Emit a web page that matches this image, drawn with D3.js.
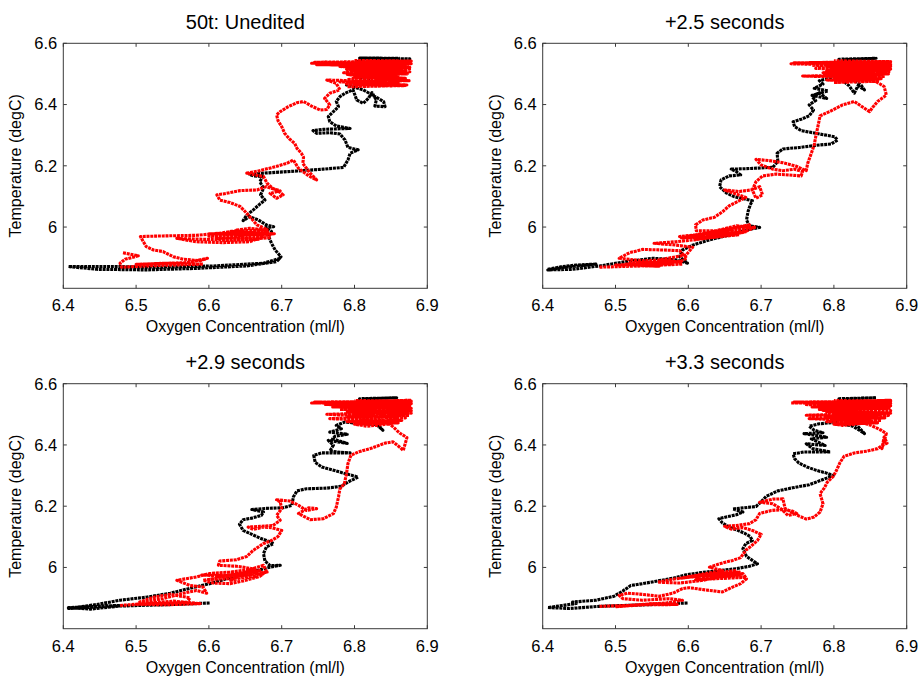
<!DOCTYPE html>
<html>
<head>
<meta charset="utf-8">
<script src="https://cdn.jsdelivr.net/npm/d3@7"></script>
<style>
  body { margin: 0; background: #fff; }
  svg text { font-family: "Liberation Sans", Arial, sans-serif; fill: #000; }
</style>
</head>
<body>
<div id="main"></div>
<script>
const ctx = {
    WIDTH: 922,
    HEIGHT: 677
}

// panel titles
const titles = ["50t: Unedited", "+2.5 seconds", "+2.9 seconds", "+3.3 seconds"];

// axis ticks
const xTicks = [6.4, 6.5, 6.6, 6.7, 6.8, 6.9];
const yTicks = [6, 6.2, 6.4, 6.6];
const xDomain = [6.4, 6.9];
const yDomain = [5.8, 6.6];

// traces: [oxygen, temperature]
const uneditedBlack = [
  [6.698,5.898],[6.675,5.882],[6.606,5.873],[6.537,5.869],[6.469,5.871],[6.407,5.871],[6.446,5.862],
  [6.514,5.860],[6.583,5.865],[6.652,5.873],[6.693,5.887],[6.699,5.903],[6.691,5.925],[6.686,5.947],
  [6.682,5.969],[6.686,5.985],[6.678,5.998],[6.689,6.001],[6.679,6.007],[6.668,6.023],[6.656,6.034],
  [6.647,6.021],[6.652,6.039],[6.661,6.056],[6.670,6.075],[6.677,6.088],[6.671,6.105],[6.675,6.127],
  [6.670,6.148],[6.674,6.165],[6.661,6.167],[6.656,6.172],[6.675,6.176],[6.721,6.183],[6.757,6.189],
  [6.785,6.195],[6.791,6.219],[6.794,6.241],[6.805,6.252],[6.791,6.260],[6.787,6.284],[6.780,6.304],
  [6.766,6.308],[6.748,6.306],[6.743,6.315],[6.757,6.319],[6.780,6.321],[6.794,6.322],[6.775,6.330],
  [6.766,6.344],[6.764,6.361],[6.771,6.377],[6.778,6.393],[6.775,6.410],[6.780,6.426],[6.787,6.437],
  [6.798,6.448],[6.803,6.415],[6.812,6.404],[6.819,6.420],[6.824,6.439],[6.830,6.415],[6.828,6.395],
  [6.842,6.393],[6.840,6.410],[6.812,6.448],[6.789,6.464],[6.812,6.469],[6.840,6.464],[6.803,6.491],
  [6.798,6.535],[6.812,6.548],[6.876,6.549],[6.807,6.552],[6.862,6.551]
];
const uneditedRed = [
  [6.482,5.916],[6.503,5.906],[6.485,5.895],[6.478,5.882],[6.480,5.869],[6.514,5.873],[6.551,5.876],
  [6.592,5.879],[6.540,5.882],[6.500,5.878],[6.570,5.884],[6.598,5.898],[6.588,5.890],[6.565,5.895],
  [6.551,5.903],[6.537,5.920],[6.524,5.925],[6.514,5.936],[6.510,5.952],[6.506,5.969],[6.537,5.971],
  [6.583,5.973],[6.615,5.980],[6.629,5.985],[6.656,5.974],[6.675,5.969],[6.656,5.952],[6.620,5.949],
  [6.583,5.952],[6.556,5.963],[6.592,5.960],[6.629,5.958],[6.647,5.969],[6.638,5.990],[6.656,5.996],
  [6.679,5.990],[6.684,5.974],[6.600,5.978],[6.680,5.982],[6.610,5.962],[6.685,5.965],[6.620,5.956],
  [6.670,5.960],[6.600,5.970],[6.690,5.978],[6.630,5.986],[6.680,5.992],[6.666,6.007],
  [6.656,6.034],[6.650,6.050],[6.643,6.067],[6.629,6.080],[6.615,6.088],[6.611,6.105],[6.624,6.110],
  [6.643,6.119],[6.666,6.121],[6.679,6.132],[6.693,6.121],[6.702,6.105],[6.693,6.094],[6.684,6.110],
  [6.698,6.118],[6.688,6.126],[6.680,6.143],[6.675,6.165],[6.652,6.176],[6.666,6.182],[6.688,6.195],
  [6.707,6.208],[6.716,6.219],[6.723,6.192],[6.737,6.167],[6.748,6.154],[6.739,6.176],[6.729,6.208],
  [6.730,6.228],[6.727,6.241],[6.721,6.257],[6.718,6.273],[6.711,6.287],[6.704,6.306],[6.700,6.328],
  [6.695,6.347],[6.693,6.366],[6.698,6.377],[6.709,6.393],[6.721,6.406],[6.730,6.410],[6.741,6.395],
  [6.753,6.382],[6.762,6.384],[6.766,6.399],[6.759,6.420],[6.766,6.437],[6.780,6.448],[6.775,6.469],
  [6.762,6.480],[6.840,6.475],[6.789,6.467],[6.872,6.464],[6.803,6.459],[6.853,6.491],[6.794,6.497],
  [6.872,6.500],[6.785,6.504],[6.858,6.511],[6.789,6.515],[6.876,6.522],[6.780,6.524],[6.878,6.533],
  [6.741,6.535],[6.876,6.540],[6.803,6.537],[6.878,6.537],[6.748,6.530],[6.867,6.528],[6.812,6.518],
  [6.876,6.507],[6.798,6.486],[6.862,6.480],[6.812,6.472],[6.844,6.461],
  [6.790,6.458],[6.870,6.462],[6.800,6.466],[6.860,6.470],[6.780,6.474],[6.875,6.478],[6.790,6.482],
  [6.870,6.486],[6.800,6.490],[6.860,6.494],[6.790,6.498],[6.875,6.502],[6.800,6.506],[6.870,6.510],
  [6.795,6.514],[6.878,6.518],[6.790,6.522],[6.870,6.526],[6.760,6.530],[6.878,6.534],[6.745,6.538],
  [6.878,6.542],[6.800,6.544]
];

const plus25Black = [
  [6.407,5.862],[6.427,5.871],[6.446,5.876],[6.473,5.879],[6.432,5.869],[6.407,5.860],[6.441,5.862],
  [6.478,5.873],[6.514,5.887],[6.551,5.898],[6.583,5.893],[6.599,5.882],[6.588,5.903],[6.592,5.925],
  [6.606,5.941],[6.629,5.958],[6.656,5.974],[6.679,5.990],[6.698,5.999],[6.684,6.004],[6.680,6.023],
  [6.682,6.050],[6.685,6.072],[6.688,6.086],[6.675,6.093],[6.663,6.099],[6.652,6.112],[6.643,6.132],
  [6.645,6.154],[6.656,6.167],[6.672,6.170],[6.666,6.181],[6.659,6.189],[6.684,6.191],[6.716,6.195],
  [6.723,6.214],[6.722,6.241],[6.730,6.255],[6.753,6.260],[6.780,6.268],[6.796,6.271],[6.805,6.284],
  [6.801,6.295],[6.787,6.301],[6.771,6.308],[6.755,6.315],[6.746,6.328],[6.744,6.344],[6.755,6.352],
  [6.766,6.363],[6.772,6.382],[6.766,6.399],[6.775,6.413],[6.770,6.426],[6.780,6.439],[6.790,6.420],
  [6.770,6.430],[6.792,6.445],[6.773,6.453],[6.785,6.467],[6.780,6.478],[6.794,6.486],[6.803,6.497],
  [6.821,6.461],[6.828,6.437],[6.833,6.461],[6.842,6.448],[6.837,6.464],[6.812,6.502],[6.807,6.548],
  [6.858,6.551],[6.812,6.546]
];
const plus25Red = [
  [6.478,5.869],[6.537,5.873],[6.592,5.879],[6.574,5.893],[6.537,5.890],[6.505,5.898],[6.519,5.916],
  [6.537,5.927],[6.565,5.925],[6.588,5.923],[6.598,5.898],[6.588,5.887],[6.551,5.882],[6.514,5.879],
  [6.560,5.872],[6.500,5.876],[6.580,5.880],[6.520,5.884],[6.590,5.886],
  [6.560,5.893],[6.597,5.909],[6.606,5.934],[6.583,5.941],[6.553,5.947],[6.583,5.952],[6.615,5.960],
  [6.647,5.971],[6.675,5.982],[6.693,6.001],[6.675,5.990],[6.643,5.974],[6.611,5.963],[6.588,5.969],
  [6.620,5.977],[6.656,5.988],[6.684,6.007],[6.600,5.970],[6.680,5.985],[6.610,5.960],[6.670,5.975],
  [6.590,5.965],[6.660,5.992],[6.620,5.978],[6.690,5.998],[6.666,6.004],[6.638,5.988],[6.611,5.988],
  [6.610,6.007],[6.620,6.023],[6.636,6.032],[6.647,6.050],[6.656,6.069],[6.670,6.086],[6.679,6.097],
  [6.663,6.110],[6.650,6.121],[6.670,6.116],[6.686,6.121],[6.698,6.132],[6.702,6.105],[6.693,6.094],
  [6.688,6.121],[6.693,6.148],[6.702,6.167],[6.721,6.173],[6.743,6.169],[6.755,6.167],[6.757,6.181],
  [6.746,6.189],[6.730,6.184],[6.716,6.189],[6.700,6.203],[6.693,6.221],[6.711,6.217],[6.730,6.210],
  [6.748,6.199],[6.762,6.184],[6.764,6.208],[6.769,6.241],[6.773,6.268],[6.775,6.295],[6.778,6.328],
  [6.781,6.363],[6.794,6.377],[6.812,6.399],[6.828,6.410],[6.840,6.391],[6.849,6.377],[6.854,6.393],
  [6.860,6.410],[6.872,6.431],[6.869,6.459],[6.858,6.475],[6.812,6.478],[6.858,6.486],[6.794,6.491],
  [6.757,6.493],[6.867,6.497],[6.785,6.504],[6.876,6.511],[6.775,6.518],[6.878,6.526],[6.741,6.533],
  [6.878,6.540],[6.766,6.537],[6.876,6.533],[6.789,6.524],[6.858,6.515],[6.798,6.507],[6.872,6.500],
  [6.803,6.486],[6.853,6.482],
  [6.800,6.472],[6.860,6.476],[6.790,6.480],[6.865,6.484],[6.800,6.488],[6.870,6.492],[6.790,6.496],
  [6.875,6.500],[6.800,6.504],[6.878,6.508],[6.790,6.512],[6.878,6.516],[6.780,6.520],[6.878,6.524],
  [6.770,6.528],[6.878,6.532],[6.745,6.536],[6.878,6.540],[6.800,6.543]
];

const plus29Black = [
  [6.601,5.884],[6.551,5.879],[6.478,5.874],[6.437,5.864],[6.407,5.869],[6.441,5.873],[6.478,5.876],
  [6.407,5.866],[6.446,5.879],[6.478,5.893],[6.514,5.903],[6.547,5.916],[6.574,5.932],[6.601,5.947],
  [6.624,5.963],[6.647,5.977],[6.666,5.990],[6.684,6.001],[6.698,6.007],[6.684,6.006],[6.677,6.021],
  [6.675,6.045],[6.679,6.067],[6.689,6.078],[6.679,6.088],[6.670,6.096],[6.659,6.108],[6.647,6.121],
  [6.642,6.141],[6.647,6.156],[6.659,6.161],[6.672,6.170],[6.675,6.181],[6.659,6.189],[6.679,6.193],
  [6.702,6.195],[6.714,6.203],[6.716,6.230],[6.721,6.250],[6.734,6.257],[6.762,6.259],[6.782,6.265],
  [6.791,6.279],[6.805,6.295],[6.796,6.301],[6.785,6.308],[6.769,6.319],[6.755,6.328],[6.746,6.343],
  [6.744,6.366],[6.755,6.374],[6.794,6.374],[6.766,6.379],[6.771,6.399],[6.764,6.415],[6.790,6.405],
  [6.770,6.420],[6.773,6.428],[6.790,6.435],[6.766,6.442],[6.782,6.453],[6.775,6.464],[6.787,6.475],
  [6.798,6.472],[6.830,6.467],[6.839,6.448],[6.833,6.464],[6.812,6.491],[6.807,6.551],[6.858,6.554],
  [6.812,6.550]
];
const plus29Red = [
  [6.478,5.876],[6.514,5.882],[6.551,5.890],[6.588,5.882],[6.540,5.878],[6.500,5.880],[6.570,5.886],
  [6.574,5.901],[6.547,5.912],[6.524,5.903],[6.505,5.887],[6.537,5.898],[6.565,5.916],[6.583,5.925],
  [6.597,5.916],[6.592,5.936],[6.574,5.941],[6.556,5.958],[6.583,5.969],[6.601,5.980],[6.629,5.985],
  [6.656,5.993],[6.675,6.007],[6.679,5.988],[6.670,5.971],[6.647,5.956],[6.629,5.947],[6.606,5.949],
  [6.592,5.958],[6.620,5.969],[6.652,5.974],[6.675,5.980],[6.600,5.960],[6.665,5.970],[6.590,5.975],
  [6.670,5.990],[6.610,5.968],[6.680,5.985],[6.630,5.958],[6.660,5.996],[6.638,6.004],[6.613,6.007],
  [6.615,6.021],[6.638,6.025],[6.652,6.036],[6.661,6.056],[6.675,6.078],[6.686,6.088],[6.695,6.101],
  [6.700,6.121],[6.686,6.130],[6.675,6.132],[6.661,6.124],[6.654,6.132],[6.670,6.134],[6.688,6.137],
  [6.698,6.154],[6.693,6.170],[6.700,6.192],[6.698,6.214],[6.693,6.221],[6.711,6.217],[6.723,6.203],
  [6.734,6.186],[6.748,6.192],[6.737,6.195],[6.723,6.176],[6.739,6.156],[6.757,6.159],[6.771,6.176],
  [6.775,6.197],[6.778,6.230],[6.780,6.257],[6.786,6.273],[6.789,6.306],[6.791,6.339],[6.795,6.366],
  [6.805,6.377],[6.824,6.390],[6.842,6.406],[6.853,6.410],[6.863,6.391],[6.867,6.382],[6.872,6.424],
  [6.862,6.439],[6.853,6.459],[6.844,6.475],[6.803,6.469],[6.840,6.478],[6.766,6.486],[6.858,6.491],
  [6.762,6.500],[6.872,6.507],[6.794,6.513],[6.876,6.522],[6.775,6.526],[6.878,6.535],[6.741,6.537],
  [6.878,6.546],[6.789,6.540],[6.876,6.530],[6.803,6.517],[6.867,6.502],[6.812,6.482],[6.849,6.469],
  [6.817,6.461],
  [6.800,6.468],[6.860,6.472],[6.790,6.476],[6.865,6.480],[6.800,6.484],[6.870,6.488],[6.790,6.492],
  [6.875,6.496],[6.800,6.500],[6.878,6.504],[6.790,6.508],[6.878,6.512],[6.780,6.516],[6.878,6.520],
  [6.770,6.524],[6.878,6.528],[6.760,6.532],[6.878,6.536],[6.745,6.540],[6.878,6.543],[6.800,6.545]
];

const plus33Black = [
  [6.599,5.884],[6.551,5.879],[6.478,5.873],[6.437,5.866],[6.407,5.869],[6.427,5.876],[6.446,5.882],
  [6.441,5.887],[6.473,5.893],[6.498,5.906],[6.510,5.923],[6.521,5.941],[6.537,5.947],[6.556,5.955],
  [6.579,5.965],[6.597,5.976],[6.620,5.984],[6.643,5.990],[6.666,5.996],[6.684,6.004],[6.695,6.012],
  [6.688,6.023],[6.680,6.036],[6.675,6.061],[6.679,6.078],[6.688,6.088],[6.685,6.101],[6.677,6.112],
  [6.668,6.121],[6.656,6.132],[6.647,6.145],[6.642,6.159],[6.652,6.165],[6.666,6.172],[6.675,6.181],
  [6.661,6.191],[6.677,6.195],[6.693,6.199],[6.700,6.214],[6.707,6.232],[6.723,6.250],[6.743,6.260],
  [6.766,6.270],[6.785,6.287],[6.799,6.300],[6.790,6.308],[6.776,6.317],[6.763,6.328],[6.752,6.341],
  [6.746,6.355],[6.744,6.371],[6.759,6.377],[6.795,6.377],[6.771,6.388],[6.762,6.404],[6.788,6.398],
  [6.769,6.420],[6.790,6.425],[6.759,6.437],[6.785,6.440],[6.773,6.448],[6.766,6.461],[6.780,6.469],
  [6.803,6.474],[6.826,6.461],[6.835,6.448],[6.842,6.437],[6.830,6.469],[6.812,6.497],[6.807,6.551],
  [6.858,6.554],[6.812,6.549]
];
const plus33Red = [
  [6.478,5.873],[6.519,5.876],[6.551,5.882],[6.585,5.879],[6.540,5.878],[6.500,5.872],[6.570,5.884],
  [6.592,5.893],[6.574,5.898],[6.537,5.893],[6.510,5.898],[6.505,5.909],[6.517,5.916],[6.537,5.912],
  [6.560,5.906],[6.579,5.916],[6.592,5.931],[6.601,5.934],[6.629,5.925],[6.647,5.920],[6.659,5.934],
  [6.672,5.947],[6.680,5.963],[6.675,5.980],[6.652,5.974],[6.620,5.958],[6.588,5.949],[6.558,5.952],
  [6.583,5.963],[6.611,5.971],[6.638,5.980],[6.666,5.990],[6.600,5.970],[6.675,5.978],[6.610,5.960],
  [6.680,5.968],[6.620,5.975],[6.670,5.985],[6.590,5.965],[6.647,5.990],[6.629,6.001],[6.643,6.012],
  [6.661,6.023],[6.672,6.032],[6.679,6.056],[6.686,6.069],[6.695,6.088],[6.700,6.108],[6.688,6.121],
  [6.675,6.130],[6.659,6.125],[6.650,6.134],[6.666,6.137],[6.684,6.143],[6.693,6.156],[6.698,6.176],
  [6.714,6.186],[6.730,6.189],[6.743,6.184],[6.749,6.176],[6.737,6.170],[6.727,6.192],[6.716,6.208],
  [6.698,6.213],[6.716,6.223],[6.730,6.224],[6.733,6.192],[6.753,6.167],[6.762,6.158],[6.773,6.165],
  [6.781,6.181],[6.785,6.208],[6.781,6.241],[6.787,6.260],[6.791,6.279],[6.799,6.297],[6.804,6.319],
  [6.808,6.341],[6.814,6.363],[6.828,6.374],[6.846,6.380],[6.860,6.388],[6.867,6.399],[6.873,6.406],
  [6.869,6.426],[6.866,6.388],[6.872,6.437],[6.865,6.448],[6.851,6.464],[6.840,6.472],[6.803,6.467],
  [6.849,6.478],[6.766,6.486],[6.858,6.493],[6.762,6.497],[6.872,6.504],[6.785,6.513],[6.876,6.522],
  [6.780,6.526],[6.878,6.535],[6.741,6.537],[6.878,6.546],[6.794,6.540],[6.876,6.530],[6.798,6.517],
  [6.867,6.502],[6.808,6.482],[6.853,6.474],[6.812,6.464],
  [6.800,6.468],[6.860,6.472],[6.790,6.476],[6.865,6.480],[6.800,6.484],[6.870,6.488],[6.790,6.492],
  [6.875,6.496],[6.800,6.500],[6.878,6.504],[6.790,6.508],[6.878,6.512],[6.780,6.516],[6.878,6.520],
  [6.770,6.524],[6.878,6.528],[6.760,6.532],[6.878,6.536],[6.745,6.540],[6.878,6.543],[6.800,6.545]
];

const blackTraces = [uneditedBlack, plus25Black, plus29Black, plus33Black];
const redTraces = [uneditedRed, plus25Red, plus29Red, plus33Red];

function drawPanel(svg, i) {
  const pw = 364, ph = 245;
  const left = i % 2 === 0 ? 63.3 : 542.7;
  const top = i < 2 ? 43.3 : 383.7;

  const x = d3.scaleLinear().domain(xDomain).range([0, pw]);
  const y = d3.scaleLinear().domain(yDomain).range([ph, 0]);

  const g = svg.append("g").attr("transform", `translate(${left},${top})`);

  // traces: black first, red on top
  const line = d3.line().x(d => x(d[0])).y(d => y(d[1]));
  [[blackTraces[i], "#000"], [redTraces[i], "#ff0000"]].forEach(([data, col]) => {
    g.append("path")
      .attr("d", line(data))
      .attr("fill", "none")
      .attr("stroke", col)
      .attr("stroke-width", 3.1)
      .attr("stroke-linejoin", "round")
      .attr("stroke-dasharray", "3,0.8");
  });

  // box
  g.append("rect")
    .attr("width", pw).attr("height", ph)
    .attr("fill", "none").attr("stroke", "#3a3a3a").attr("stroke-width", 1);

  // ticks, inside, on all four sides
  const tl = 3.5;
  xTicks.forEach(t => {
    g.append("line").attr("x1", x(t)).attr("x2", x(t)).attr("y1", ph).attr("y2", ph - tl)
      .attr("stroke", "#3a3a3a");
    g.append("line").attr("x1", x(t)).attr("x2", x(t)).attr("y1", 0).attr("y2", tl)
      .attr("stroke", "#3a3a3a");
    g.append("text").attr("x", x(t)).attr("y", ph + 23)
      .attr("text-anchor", "middle").style("font-size", "16.5px")
      .text(d3.format("")(t));
  });
  yTicks.forEach(t => {
    g.append("line").attr("x1", 0).attr("x2", tl).attr("y1", y(t)).attr("y2", y(t))
      .attr("stroke", "#3a3a3a");
    g.append("line").attr("x1", pw).attr("x2", pw - tl).attr("y1", y(t)).attr("y2", y(t))
      .attr("stroke", "#3a3a3a");
    g.append("text").attr("x", -6).attr("y", y(t)).attr("dy", "0.36em")
      .attr("text-anchor", "end").style("font-size", "16.5px")
      .text(d3.format("")(t));
  });

  // labels and title
  g.append("text").attr("x", pw / 2).attr("y", ph + 44)
    .attr("text-anchor", "middle").style("font-size", "16px")
    .text("Oxygen Concentration (ml/l)");
  g.append("text")
    .attr("transform", `translate(-42,${ph / 2}) rotate(-90)`)
    .attr("text-anchor", "middle").style("font-size", "16px")
    .text("Temperature (degC)");
  g.append("text").attr("x", pw / 2).attr("y", -14.5)
    .attr("text-anchor", "middle").style("font-size", "20px")
    .text(titles[i]);
}

function createViz() {
  const svg = d3.select("#main").append("svg")
    .attr("width", ctx.WIDTH)
    .attr("height", ctx.HEIGHT);
  titles.forEach((t, i) => drawPanel(svg, i));
}

createViz();
</script>
</body>
</html>
